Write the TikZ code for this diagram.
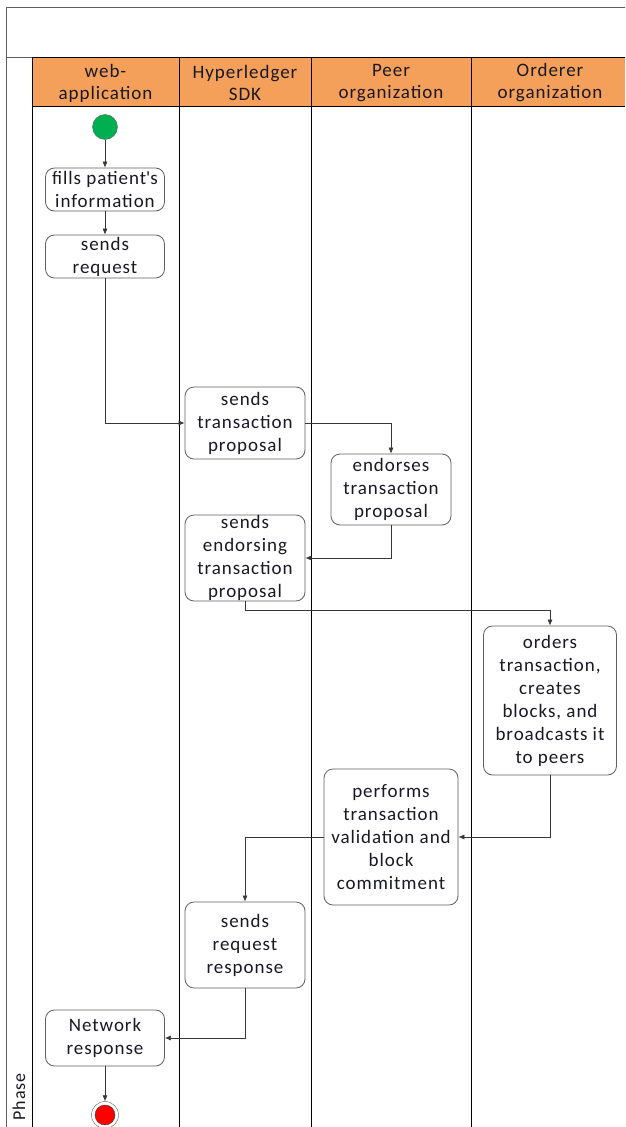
\documentclass[tikz,border=0pt]{standalone}
\usepackage{fontspec}
\setmainfont[LetterSpace=5]{Carlito}
\usetikzlibrary{arrows.meta}

\definecolor{lanehead}{RGB}{245,160,90}
\definecolor{boxline}{RGB}{95,95,95}
\definecolor{flowline}{RGB}{55,55,55}
\definecolor{startfill}{RGB}{0,176,80}
\definecolor{labeltext}{RGB}{25,25,35}

\tikzset{
    activity/.style={draw=boxline, line width=0.8pt, rounded corners=9pt, fill=white, align=center,
        inner sep=0pt, text=labeltext, font=\fontsize{19}{23}\selectfont},
    flow/.style={draw=flowline, line width=0.6pt, -{Latex[length=6pt,width=5pt]}},
    lanetext/.style={align=center, text=labeltext, font=\fontsize{19}{22}\selectfont},
}

\begin{document}
\begin{tikzpicture}[x=1pt,y=-1pt]
        \useasboundingbox (0,0) rectangle (625,1127);

        % frame and lanes
        \fill[lanehead] (32,57) rectangle (625,106);
        \draw[boxline, line width=0.8pt] (6,1127) -- (6,7) -- (625,7);
        \draw[boxline, line width=0.8pt] (6,57) -- (625,57);
        \draw[black, line width=0.7pt] (32,57) -- (625,57);
        \draw[black, line width=0.7pt] (32,106) -- (625,106);
        \draw[black, line width=0.7pt] (32,57) -- (32,1127);
        \draw[black, line width=0.7pt] (179,57) -- (179,1127);
        \draw[black, line width=0.7pt] (311,57) -- (311,1127);
        \draw[black, line width=0.7pt] (471,57) -- (471,1127);

        \node[lanetext] (hweb) at (105.5,83) {web-\\application};
        \node[lanetext] (hsdk) at (245,83) {Hyperledger\\SDK};
        \node[lanetext] (hpeer) at (391,83) {Peer\\organization};
        \node[lanetext] (hord) at (550,83) {Orderer\\organization};
        \node[rotate=90, anchor=west, text=labeltext, font=\fontsize{18}{20}\selectfont] (phase) at (19,1124) {Phase};

        % activities
        \node[circle, draw=boxline, fill=startfill, minimum size=25pt, inner sep=0pt] (start) at (105,127) {};
        \node[activity, minimum width=119pt, minimum height=43pt] (fills) at (105,189.5) {fills patient\textquotesingle s\\information};
        \node[activity, minimum width=119pt, minimum height=43pt] (sreq) at (105,256.5) {sends\\request};
        \node[activity, minimum width=120pt, minimum height=72pt] (stp) at (245,423) {sends\\transaction\\proposal};
        \node[activity, minimum width=120pt, minimum height=71pt] (etp) at (391,489.5) {endorses\\transaction\\proposal};
        \node[activity, minimum width=120pt, minimum height=86pt] (setp) at (245,558) {sends\\endorsing\\transaction\\proposal};
        \node[activity, minimum width=133pt, minimum height=149pt] (ord) at (550,700.5) {orders\\transaction,\\creates\\blocks, and\\broadcasts it\\to peers};
        \node[activity, minimum width=134pt, minimum height=136pt] (perf) at (391,837) {performs\\transaction\\validation and\\block\\commitment};
        \node[activity, minimum width=120pt, minimum height=86pt] (resp) at (245,945) {sends\\request\\response};
        \node[activity, minimum width=119pt, minimum height=56pt] (net) at (105,1038) {Network\\response};
        \node[circle, draw=boxline, fill=white, minimum size=27pt, inner sep=0pt] (stop) at (105,1115) {};
        \node[circle, draw=flowline, fill=red, minimum size=20pt, inner sep=0pt] (stopin) at (stop.center) {};

        % flows
        \draw[flow] (start) -- (fills);
        \draw[flow] (fills) -- (sreq);
        \draw[flow] (sreq.south) |- (stp.west);
        \draw[flow] (stp.east) -| (etp.north);
        \draw[flow] (etp.south) |- (setp.east);
        \draw[flow] (setp.south) -- ++(0,9) -| (ord.north);
        \draw[flow] (ord.south) |- (perf.east);
        \draw[flow] (perf.west) -| (resp.north);
        \draw[flow] (resp.south) |- (net.east);
        \draw[flow] (net) -- (stop);

    \end{tikzpicture}
\end{document}
